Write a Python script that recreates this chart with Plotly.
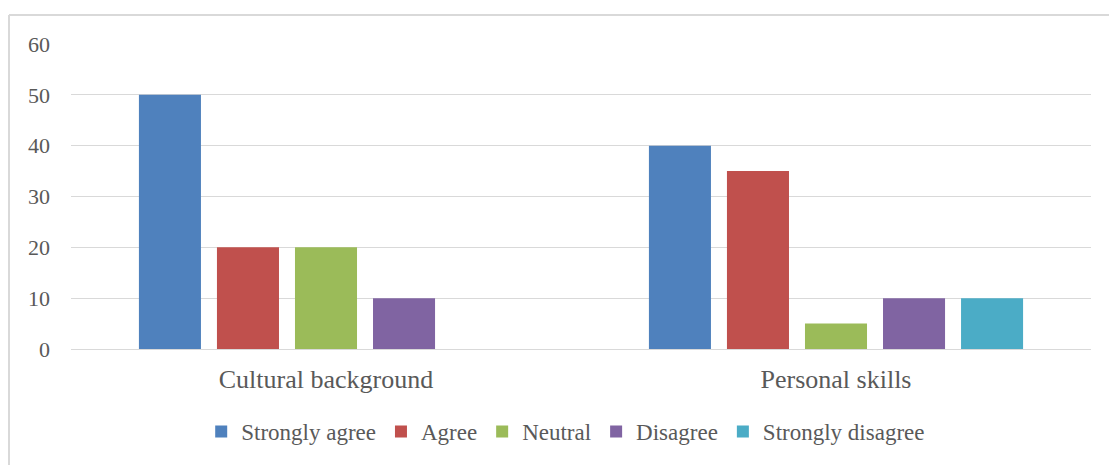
import plotly.graph_objects as go

categories = ["Cultural background", "Personal skills"]
series_names = ["Strongly agree", "Agree", "Neutral", "Disagree", "Strongly disagree"]
strongly_agree = [50, 40]
agree = [20, 35]
neutral = [20, 5]
disagree = [10, 10]
strongly_disagree = [0, 10]
y_ticks = [0, 10, 20, 30, 40, 50, 60]

colors = ["#4F81BD", "#C0504D", "#9BBB59", "#8064A2", "#4BACC6"]
values = [strongly_agree, agree, neutral, disagree, strongly_disagree]

fig = go.Figure()
for name, vals, c in zip(series_names, values, colors):
    fig.add_trace(go.Bar(x=categories, y=vals, name=name, marker=dict(color=c, line=dict(width=0))))

FF = "Times New Roman, Liberation Serif, DejaVu Serif, serif"
TXT = "#595959"
fig.update_layout(
    width=1109, height=465,
    margin=dict(l=71, r=18, t=44, b=116),
    paper_bgcolor="white", plot_bgcolor="white",
    barmode="group", bargap=0.235, bargroupgap=0.205,
    font=dict(family=FF, color=TXT),
    showlegend=True,
    legend=dict(orientation="h", x=0.485, xanchor="center", y=-0.2, yanchor="top",
                font=dict(family=FF, size=23, color=TXT), itemwidth=30, traceorder="normal"),
    xaxis=dict(showgrid=False, showline=False, ticks="", tickfont=dict(family=FF, size=26, color=TXT),
               ticklabelstandoff=12),
    yaxis=dict(range=[0, 60], tickvals=y_ticks, showgrid=True, gridcolor="#D9D9D9", gridwidth=1,
               zeroline=True, zerolinecolor="#D9D9D9", zerolinewidth=1, showline=False,
               tickfont=dict(family=FF, size=22, color=TXT), ticklabelstandoff=20),
    shapes=[
        dict(type="line", xref="paper", yref="paper", x0=-0.0608, x1=1.2, y0=1.095, y1=1.095,
             line=dict(color="#D9D9D9", width=2)),
        dict(type="line", xref="paper", yref="paper", x0=-0.0608, x1=-0.0608, y0=1.095, y1=-0.5,
             line=dict(color="#D9D9D9", width=2)),
    ],
)

fig.write_html("out.html")
